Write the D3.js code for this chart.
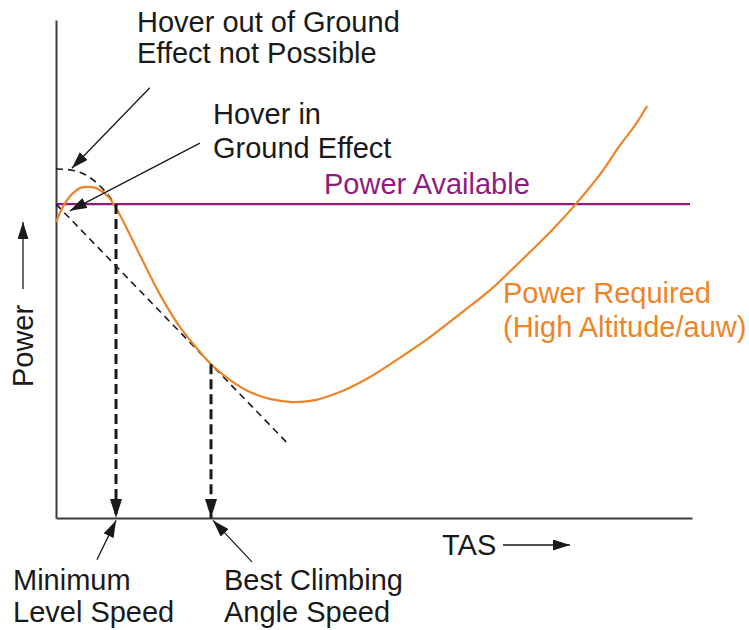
<!DOCTYPE html>
<html>
<head>
<meta charset="utf-8">
<script src="https://cdn.jsdelivr.net/npm/d3@7/dist/d3.min.js"></script>
<style>
  html, body { margin: 0; padding: 0; background: #fff; }
  svg { display: block; }
  text { font-family: "Liberation Sans", Arial, sans-serif; }
</style>
</head>
<body>
<svg id="chart" width="749" height="630"></svg>
<script>
// ---- data (TAS units on x, power units on y) ----
const powerRequiredTas = [0, 2.0, 4.0, 6.0, 8.1, 10.1, 12.1, 13.6, 15.1, 17.4, 21.1, 26.2, 31.2, 36.2, 39.2, 43.8, 48.8, 53.8, 59.4, 65.2, 71.4, 79.0, 86.5, 94.1, 101.6, 109.2, 116.7, 125.0, 130.6, 136.9, 141.9, 145.7, 148.7];
const powerRequired    = [74.3, 78.6, 81.3, 82.8, 83.1, 82.8, 81.6, 80.1, 77.8, 73.5, 66.0, 56.0, 47.9, 41.7, 38.4, 34.6, 31.6, 29.9, 29.1, 29.6, 31.6, 35.4, 40.2, 45.4, 51.2, 57.2, 64.3, 72.5, 78.6, 86.3, 93.6, 98.6, 103.4];

const powerAvailable = 78.8;
const powerAvailableTas = [0, 159.5];

// hover out of ground effect requirement (dashed arc)
const hoverOgeTas   = [0, 4.0, 7.5, 10.6, 13.1, 14.8];
const hoverOgePower = [87.6, 87.3, 86.1, 83.8, 81.1, 78.8];

// tangent from the origin-side hover point to the power required curve
const tangentTas   = [0, 58.4];
const tangentPower = [78.8, 18.6];

// characteristic speeds
const minLevelSpeed = 15.1;
const minLevelPower = 78.8;
const bestClimbSpeed = 39.0;
const bestClimbPower = 38.6;

// annotation pointers: [fromTas, fromPower, toTas, toPower]
const pointers = [
  [23.6, 108.0, 4.0, 87.8],   // hover out of ground effect
  [36.2, 94.1, 3.5, 77.1],    // hover in ground effect
  [10.3, -10.5, 15.1, -0.6],  // minimum level speed
  [49.3, -11.0, 39.5, -0.6]   // best climbing angle speed
];

const labelLines = {
  oge: ["Hover out of Ground", "Effect not Possible"],
  ige: ["Hover in", "Ground Effect"],
  minSpeed: ["Minimum", "Level Speed"],
  bestClimb: ["Best Climbing", "Angle Speed"],
  required: ["Power Required", "(High Altitude/auw)"]
};

// ---- layout ----
const svg = d3.select("#chart");
const x = d3.scaleLinear().domain([0, 160]).range([56, 692]);
const y = d3.scaleLinear().domain([0, 125]).range([518, 20]);

const ORANGE = "#EE8426";
const PURPLE = "#8E1C7F";
const INK = "#1a1a1a";
const FONT = 29;

// arrowhead markers
const defs = svg.append("defs");
function marker(id, w, l) {
  defs.append("marker")
    .attr("id", id)
    .attr("viewBox", `0 0 ${l} ${w}`)
    .attr("refX", l).attr("refY", w / 2)
    .attr("markerWidth", l).attr("markerHeight", w)
    .attr("markerUnits", "userSpaceOnUse")
    .attr("orient", "auto")
    .append("path")
    .attr("d", `M0,0L${l},${w / 2}L0,${w}Z`)
    .attr("fill", INK);
}
marker("head", 11, 17);
marker("headBig", 12, 19);

// axes (lines only)
const xAxis = d3.axisBottom(x).tickValues([]).tickSizeOuter(0);
const yAxis = d3.axisLeft(y).tickValues([]).tickSizeOuter(0);
svg.append("g").attr("transform", `translate(0,${y(0)})`).call(xAxis)
  .select(".domain").attr("stroke", "#3c3c3c").attr("stroke-width", 2);
svg.append("g").attr("transform", `translate(${x(0)},0)`).call(yAxis)
  .select(".domain").attr("stroke", "#3c3c3c").attr("stroke-width", 2);

const line = d3.line().x(d => x(d[0])).y(d => y(d[1]));

// power available
svg.append("path")
  .datum(powerAvailableTas.map(t => [t, powerAvailable]))
  .attr("d", line)
  .attr("fill", "none").attr("stroke", PURPLE).attr("stroke-width", 2.2);

// tangent (dashed)
svg.append("path")
  .datum(tangentTas.map((t, i) => [t, tangentPower[i]]))
  .attr("d", line)
  .attr("fill", "none").attr("stroke", INK).attr("stroke-width", 1.6)
  .attr("stroke-dasharray", "7,5");

// hover OGE arc (dashed)
svg.append("path")
  .datum(hoverOgeTas.map((t, i) => [t, hoverOgePower[i]]))
  .attr("d", line.curve(d3.curveCatmullRom))
  .attr("fill", "none").attr("stroke", INK).attr("stroke-width", 1.6)
  .attr("stroke-dasharray", "7,5");

// power required
svg.append("path")
  .datum(powerRequiredTas.map((t, i) => [t, powerRequired[i]]))
  .attr("d", d3.line().x(d => x(d[0])).y(d => y(d[1])).curve(d3.curveCatmullRom))
  .attr("fill", "none").attr("stroke", ORANGE).attr("stroke-width", 2.2);

// speed drop lines
[[minLevelSpeed, minLevelPower], [bestClimbSpeed, bestClimbPower]].forEach(([s, p]) => {
  svg.append("line")
    .attr("x1", x(s)).attr("y1", y(p))
    .attr("x2", x(s)).attr("y2", y(0))
    .attr("stroke", INK).attr("stroke-width", 3)
    .attr("stroke-dasharray", "10,5")
    .attr("marker-end", "url(#headBig)");
});

// pointers
pointers.forEach(([a, b, c, d]) => {
  svg.append("line")
    .attr("x1", x(a)).attr("y1", y(b))
    .attr("x2", x(c)).attr("y2", y(d))
    .attr("stroke", INK).attr("stroke-width", 1.3)
    .attr("marker-end", "url(#head)");
});

// text helper
function lines(arr, px, py, color, gap) {
  const t = svg.append("text").attr("x", px).attr("y", py)
    .attr("font-size", FONT).attr("fill", color);
  arr.forEach((s, i) => t.append("tspan").attr("x", px).attr("dy", i ? gap : 0).text(s));
}
lines(labelLines.oge, 137, 32, INK, 31);
lines(labelLines.ige, 213, 124, INK, 34);
lines(labelLines.minSpeed, 13, 590, INK, 32);
lines(labelLines.bestClimb, 224, 590, INK, 32);
lines(labelLines.required, 503, 303, ORANGE, 34);

svg.append("text").attr("x", 324).attr("y", 194)
  .attr("font-size", FONT).attr("fill", PURPLE).text("Power Available");

// axis titles with arrows
svg.append("text").attr("x", 442).attr("y", 555)
  .attr("font-size", FONT).attr("fill", INK).text("TAS");
svg.append("line").attr("x1", 503).attr("y1", 545).attr("x2", 570).attr("y2", 545)
  .attr("stroke", INK).attr("stroke-width", 1.3).attr("marker-end", "url(#head)");

svg.append("text")
  .attr("transform", "translate(33,346) rotate(-90)")
  .attr("text-anchor", "middle")
  .attr("font-size", FONT).attr("fill", INK).text("Power");
svg.append("line").attr("x1", 23).attr("y1", 289).attr("x2", 23).attr("y2", 222)
  .attr("stroke", INK).attr("stroke-width", 1.3).attr("marker-end", "url(#head)");
</script>
</body>
</html>
